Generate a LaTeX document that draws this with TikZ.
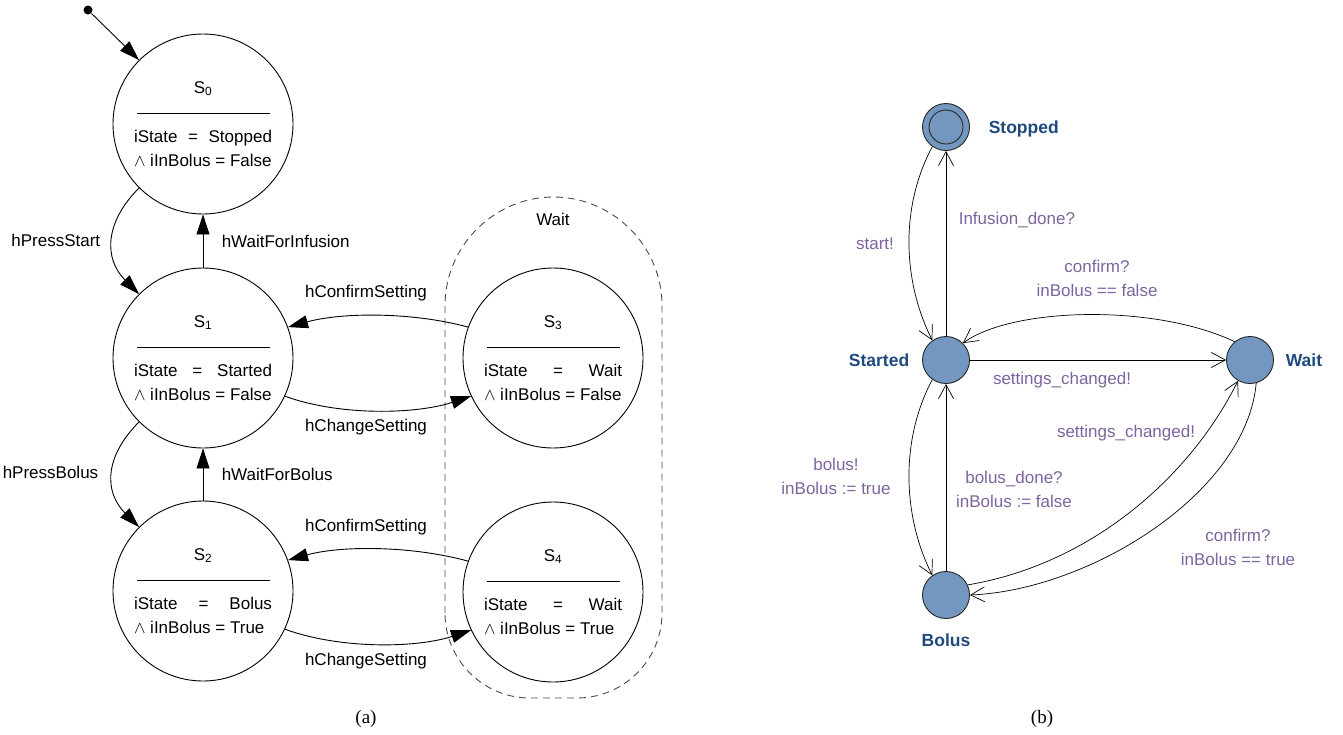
\documentclass[tikz,border=0pt]{standalone}
\usepackage{fontspec}
\setmainfont{Liberation Sans}
\newfontfamily\capfont{Liberation Serif}
\usetikzlibrary{arrows.meta}

\definecolor{locfill}{RGB}{116,151,192}
\definecolor{locname}{RGB}{31,73,125}
\definecolor{guard}{RGB}{125,100,160}

% body of a state of the left machine: index, iState value, iInBolus value
\newcommand{\stateinfo}[3]{%
  \parbox{138pt}{\centering
    S\textsubscript{#1}\\[-3pt]
    \rule{133pt}{1.5pt}\\[4pt]
    \makebox[138pt]{iState\hfill=\hfill#2}\\
    \makebox[138pt][l]{$\land$ iInBolus = #3}}}

\begin{document}
\begin{tikzpicture}[
  x=1pt, y=-1pt, % one unit per pixel, y downward
  font=\fontsize{17}{24}\selectfont,
  line width=0.9pt,
  fsmstate/.style={circle, draw, minimum size=180pt, inner sep=0pt},
  initdot/.style={circle, fill, minimum size=9pt, inner sep=0pt},
  fsm/.style={-{Triangle[length=20pt,width=13pt]}},
  waitbox/.style={draw=black!70, dash pattern=on 7pt off 5pt},
  loc/.style={circle, draw=black!85, fill=locfill, minimum size=47pt, inner sep=0pt},
  locname/.style={text=locname, font=\fontsize{17.5}{24}\selectfont\bfseries},
  upp/.style={-{Straight Barb[length=14pt,width=15pt]}, line width=0.7pt},
  guardlbl/.style={text=guard, align=center}
]
  % ---- canvas ----
  \useasboundingbox (0,0) rectangle (1343,734);

  % ---- (a): states ----
  \foreach \n/\y/\st/\b in {0/124/Stopped/False, 1/358/Started/False, 2/591/Bolus/True} {
    \node[fsmstate] (S\n) at (203,\y) {\stateinfo{\n}{\st}{\b}};
  }
  \foreach \n/\y/\b in {3/358/False, 4/592/True} {
    \node[fsmstate] (S\n) at (553,\y) {\stateinfo{\n}{Wait}{\b}};
  }
  \node[initdot] (init) at (88,10) {};

  % ---- (a): Wait super state ----
  \draw[waitbox] (445,613) -- (445,305.5)
    .. controls (445,245.6) and (494.6,197) .. (553.5,197)
    .. controls (612.4,197) and (662,245.6) .. (662,305.5)
    -- (662,613) .. controls (662,659.9) and (623.9,698) .. (577,698)
    -- (530,698) .. controls (483.1,698) and (445,659.9) .. (445,613) -- cycle;
  \node[anchor=base] (waitname) at (553,225) {Wait};

  % ---- (a): transitions ----
  \draw[fsm] (init) -- (S0.135);
  \draw[fsm] (S0.225) .. controls +(-35,35) and +(-35,-35) .. (S1.135);
  \draw[fsm] (S1) -- (S0);
  \draw[fsm] (S1.225) .. controls +(-35,35) and +(-35,-35) .. (S2.135);
  \draw[fsm] (S2) -- (S1);
  \draw[fsm] (S3.160) .. controls +(-55,-15) and +(55,-15) .. (S1.20);
  \draw[fsm] (S1.-25) .. controls +(55,20) and +(-55,18) .. (S3.205);
  \draw[fsm] (S4.160) .. controls +(-55,-15) and +(55,-15) .. (S2.20);
  \draw[fsm] (S2.-25) .. controls +(55,20) and +(-55,18) .. (S4.205);

  % labels
  \node[anchor=base east] (lPressStart) at (104,246) {hPressStart};
  \node[anchor=base west] (lWaitInf) at (218,247) {hWaitForInfusion};
  \node[anchor=base east] (lPressBolus) at (102,478) {hPressBolus};
  \node[anchor=base west] (lWaitBolus) at (218,480) {hWaitForBolus};
  \node[anchor=base] (lConfirmA) at (366,297) {hConfirmSetting};
  \node[anchor=base] (lChangeA) at (366,431) {hChangeSetting};
  \node[anchor=base] (lConfirmB) at (366,531) {hConfirmSetting};
  \node[anchor=base] (lChangeB) at (366,665) {hChangeSetting};

  % ---- (b): locations ----
  \node[loc] (Stopped) at (946,127) {};
  \node[loc, fill=none, minimum size=34pt] (StoppedIn) at (Stopped.center) {};
  \node[loc] (Started) at (946,360) {};
  \node[loc] (Wait) at (1250,360) {};
  \node[loc] (Bolus) at (946,595) {};

  \node[locname, anchor=base west] (nStopped) at (985,133) {Stopped};
  \node[locname, anchor=base east] (nStarted) at (913,366) {Started};
  \node[locname, anchor=base west] (nWait) at (1282,366) {Wait};
  \node[locname, anchor=base] (nBolus) at (946,646) {Bolus};

  % ---- (b): edges ----
  \draw[upp] (Stopped.235) .. controls +(-32,60) and +(-30,-60) .. (Started.125);
  \draw[upp] (Started) -- (Stopped);
  \draw[upp] (Wait.130) .. controls +(-80,-38) and +(50,-36) .. (Started.45);
  \draw[upp] (Started) -- (Wait);
  \draw[upp] (Started.235) .. controls +(-32,60) and +(-30,-60) .. (Bolus.125);
  \draw[upp] (Bolus) -- (Started);
  \draw[upp] (Bolus.25) .. controls +(120,-20) and +(-50,100) .. (Wait.240);
  \draw[upp] (Wait.285) .. controls +(-10,110) and +(120,-5) .. (Bolus.0);

  % guards and syncs
  \node[guardlbl, anchor=base] (gStart) at (875,249) {start!};
  \node[guardlbl, anchor=base west] (gInfDone) at (955,224) {Infusion\_done?};
  \node[guardlbl] (gConfirmF) at (1097,278) {confirm?\\inBolus == false};
  \node[guardlbl, anchor=base] (gChangedA) at (1062,384) {settings\_changed!};
  \node[guardlbl] (gBolus) at (836,476) {bolus!\\inBolus := true};
  \node[guardlbl] (gBolusDone) at (1014,489) {bolus\_done?\\inBolus := false};
  \node[guardlbl, anchor=base] (gChangedB) at (1126,437) {settings\_changed!};
  \node[guardlbl] (gConfirmT) at (1238,547) {confirm?\\inBolus == true};

  % ---- captions ----
  \node[anchor=base, font=\capfont\fontsize{19}{22}\selectfont] (capA) at (366,723) {(a)};
  \node[anchor=base, font=\capfont\fontsize{19}{22}\selectfont] (capB) at (1042,723) {(b)};
\end{tikzpicture}
\end{document}
